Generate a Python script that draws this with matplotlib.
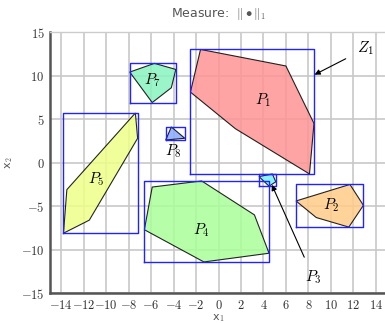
import matplotlib.pyplot as plt
import numpy as np

plt.rcParams['mathtext.fontset'] = 'cm'

# Polygon vertices (x1, x2) for each set
p1 = [(-1.6, 13.0), (6.0, 11.1), (8.5, 4.5), (8.1, -1.3), (1.5, 3.9), (-2.5, 8.1)]
p2 = [(6.9, -4.4), (11.7, -2.5), (12.9, -4.9), (11.6, -7.4), (8.7, -6.3)]
p3 = [(3.6, -1.6), (4.8, -1.3), (5.1, -2.2), (4.5, -2.7)]
p4 = [(-5.9, -2.8), (-1.5, -2.1), (3.2, -6.0), (4.5, -10.4), (-1.3, -11.4), (-6.6, -7.7)]
p5 = [(-7.4, 5.7), (-7.2, 2.8), (-11.5, -6.6), (-13.8, -8.1), (-13.5, -3.1)]
p7 = [(-7.9, 10.4), (-5.7, 11.4), (-3.8, 10.7), (-4.2, 8.6), (-5.9, 6.9)]
p8 = [(-4.2, 4.1), (-3.0, 2.8), (-4.7, 2.6)]

polys = [p1, p2, p3, p4, p5, p7, p8]
colors = ['#ff9494', '#ffcc88', '#77eeff', '#aaff99', '#eeff88', '#88f5c0', '#88aaff']
names = ['$P_1$', '$P_2$', '$P_3$', '$P_4$', '$P_5$', '$P_7$', '$P_8$']
label_pos = [(4.0, 7.2), (10.0, -4.9), None, (-1.5, -7.7), (-10.9, -1.9), (-5.9, 9.5), (-4.0, 1.3)]

xticks = np.arange(-14, 15, 2)
yticks = np.arange(-15, 16, 5)

fig = plt.figure(figsize=(3.85, 3.23), dpi=100)
ax = fig.add_axes([50 / 385, 29.7 / 323, 337 / 385, 261.3 / 323])

for pts, c in zip(polys, colors):
    pts = np.array(pts)
    ax.fill(pts[:, 0], pts[:, 1], facecolor=c, alpha=0.85, edgecolor='black',
            linewidth=0.8, zorder=3)
    # bounding box
    x0, y0 = pts.min(axis=0)
    x1, y1 = pts.max(axis=0)
    ax.plot([x0, x1, x1, x0, x0], [y0, y0, y1, y1, y0], color='#2222ff',
            linewidth=1.0, zorder=4)

for name, pos in zip(names, label_pos):
    if pos is not None:
        ax.text(pos[0], pos[1], name, fontsize=11, ha='center', va='center', zorder=5)

ax.annotate('$Z_1$', xy=(8.55, 10.1), xytext=(13.1, 13.1), fontsize=11,
            ha='center', va='center', zorder=5,
            arrowprops=dict(arrowstyle='-|>', color='black', lw=0.8,
                            shrinkA=7, shrinkB=0, mutation_scale=8))
ax.annotate('$P_3$', xy=(4.75, -2.55), xytext=(8.45, -13.2), fontsize=11,
            ha='center', va='center', zorder=5,
            arrowprops=dict(arrowstyle='-|>', color='black', lw=0.8,
                            shrinkA=7, shrinkB=0, mutation_scale=8))

ax.set_xlim(-15, 15)
ax.set_ylim(-15, 15)
ax.set_xticks(xticks)
ax.set_yticks(yticks)
ax.set_xticklabels(['$%d$' % v for v in xticks], fontsize=9)
ax.set_yticklabels(['$%d$' % v for v in yticks], fontsize=9)
ax.tick_params(length=0, pad=4, colors='#333333')
ax.grid(True, color='#c8c8c8', linewidth=1.2, zorder=0)
ax.set_axisbelow(True)

for s in ['top', 'right']:
    ax.spines[s].set_color('#cccccc')
    ax.spines[s].set_linewidth(1.0)
for s in ['left', 'bottom']:
    ax.spines[s].set_color('#555555')
    ax.spines[s].set_linewidth(1.8)

ax.set_xlabel('x$_1$', color='#555555', fontsize=8, labelpad=0)
ax.set_ylabel('x$_2$', color='#555555', fontsize=8, labelpad=4)
fig.text(218 / 385, 1 - 14 / 323, r'Measure:  $\|\bullet\|_1$', color='#555555',
         fontsize=9, ha='center', va='center')

fig.savefig('out.png', dpi=100)
